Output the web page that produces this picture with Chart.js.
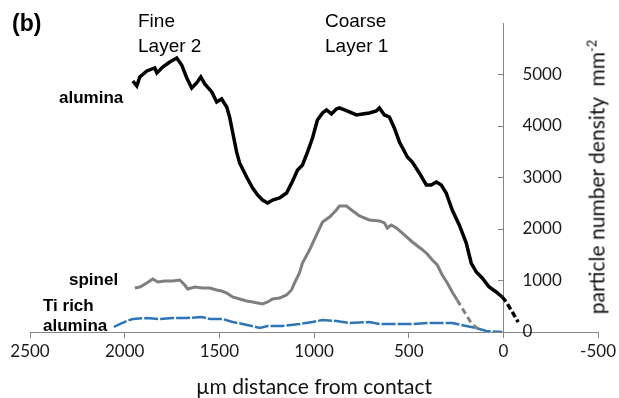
<!DOCTYPE html>
<html>
<head>
<meta charset="utf-8">
<script src="https://cdn.jsdelivr.net/npm/chart.js@4"></script>
<style>
  body { margin: 0; background: #fff; }
  #wrap { position: relative; width: 619px; height: 398px; }
  .lbl { position: absolute; white-space: nowrap; color: #000; font-family: "Liberation Sans", Arial, sans-serif; line-height: 1; }
  .b { font-weight: bold; }
  #ytitle { position: absolute; left: 596px; top: 177px; transform: translate(-50%, -50%) rotate(-90deg);
            white-space: nowrap; font: 21px Lato, sans-serif; color: #111; }
  #ytitle sup { font-size: 13px; }
</style>
</head>
<body>
<div id="wrap">
  <canvas id="grafico" width="619" height="398"></canvas>
  <div class="lbl b" style="left:12px; top:12px; font-size:23px;">(b)</div>
  <div class="lbl" style="left:138px; top:11px; font-size:19px;">Fine</div>
  <div class="lbl" style="left:138px; top:36px; font-size:19px;">Layer 2</div>
  <div class="lbl" style="left:325px; top:11px; font-size:19px;">Coarse</div>
  <div class="lbl" style="left:325px; top:36px; font-size:19px;">Layer 1</div>
  <div class="lbl b" style="left:59px; top:89px; font-size:17px;">alumina</div>
  <div class="lbl b" style="left:69px; top:271px; font-size:17px;">spinel</div>
  <div class="lbl b" style="left:43px; top:297px; font-size:17px;">Ti rich</div>
  <div class="lbl b" style="left:43px; top:317px; font-size:17px;">alumina</div>
  <div id="ytitle">particle number density&nbsp; mm<sup>-2</sup></div>
</div>
<script>
// dados (distancia em µm, densidade em particulas/mm2)
let aluminaX = [1957, 1936, 1920, 1883, 1841, 1830, 1799, 1762, 1725, 1699, 1672, 1646, 1620, 1598, 1577,
  1540, 1514, 1488, 1461, 1446, 1430, 1409, 1393, 1356, 1324, 1298, 1272, 1245, 1219, 1182, 1145, 1113,
  1087, 1061, 1034, 1008, 982, 955, 934, 908, 882, 866, 839, 813, 776, 744, 708, 671, 655, 628, 602, 576,
  549, 507, 481, 444, 407, 381, 354, 328, 302, 270, 233, 196, 170, 143, 112, 75, 38, 6, -15, -41, -78];
let aluminaY = [4874, 4777, 4952, 5069, 5127, 5030, 5146, 5243, 5321, 5185, 4933, 4738, 4836, 4952, 4816,
  4661, 4467, 4525, 4370, 4175, 3884, 3496, 3282, 3010, 2796, 2661, 2563, 2505, 2563, 2602, 2699, 2932,
  3146, 3243, 3496, 3767, 4117, 4253, 4311, 4234, 4331, 4350, 4311, 4272, 4214, 4234, 4253, 4292, 4350, 4214, 4175, 3962,
  3690, 3399, 3301, 3088, 2855, 2855, 2913, 2855, 2699, 2369, 2078, 1728, 1340, 1165, 1049, 874, 777, 680, 583, 427, 194];

let spinelX = [1946, 1920, 1883, 1852, 1825, 1788, 1746, 1709, 1683, 1667, 1630, 1588, 1551, 1514, 1488,
  1461, 1430, 1393, 1356, 1324, 1298, 1272, 1245, 1219, 1182, 1145, 1119, 1103, 1077, 1061, 1024, 987,
  955, 918, 882, 866, 829, 802, 760, 708, 655, 628, 613, 592, 565, 523, 481, 433, 402, 375, 349, 323,
  296, 270, 244, 170, 128];
let spinelY = [854, 874, 952, 1029, 971, 990, 990, 1010, 913, 835, 874, 854, 854, 816, 796,
  757, 680, 641, 602, 583, 563, 544, 583, 641, 660, 719, 816, 952, 1146, 1340, 1592, 1884,
  2136, 2233, 2369, 2447, 2447, 2369, 2253, 2175, 2156, 2117, 2020, 2078, 2020, 1884, 1748, 1612, 1515, 1398, 1301, 1107,
  952, 777, 621, 175, 39];

let tiX = [2057, 2026, 1989, 1957, 1883, 1815, 1746, 1672, 1593, 1551, 1483, 1430, 1377, 1330, 1287,
  1245, 1166, 1077, 1008, 955, 882, 813, 708, 655, 481, 391, 270, 196, 143, 91, 6];
let tiY = [97, 155, 214, 252, 272, 252, 272, 272, 291, 252, 252, 194, 155, 117, 78,
  117, 117, 155, 194, 233, 214, 175, 194, 155, 155, 175, 175, 117, 78, 19, 0];

// eixos
let xMin = -500, xMax = 2500, xStep = 500;
let yTicks = [0, 1000, 2000, 3000, 4000, 5000];
let yMax = 6000;

function pontos(xs, ys) {
  return xs.map((x, i) => ({ x: x, y: ys[i] }));
}

// rotulos do eixo y ficam a direita da linha do eixo
const rotulosY = {
  id: "rotulosY",
  afterDraw(chart) {
    let s = chart.scales.y;
    let x0 = chart.scales.x.getPixelForValue(0);
    let ctx = chart.ctx;
    ctx.save();
    ctx.font = "17px Lato";
    ctx.fillStyle = "#1a1a1a";
    ctx.textAlign = "left";
    ctx.textBaseline = "middle";
    s.ticks.forEach(t => ctx.fillText(String(t.value), x0 + 19, s.getPixelForValue(t.value)));
    ctx.restore();
  }
};

let cinza = "#868686";

let chart = new Chart(document.getElementById("grafico"), {
  type: "line",
  data: {
    datasets: [
      {
        label: "alumina",
        data: pontos(aluminaX, aluminaY),
        borderColor: "#000",
        borderWidth: 3.5,
        pointRadius: 0,
        segment: { borderDash: c => c.p1.parsed.x < 5 ? [6, 3] : undefined }
      },
      {
        label: "spinel",
        data: pontos(spinelX, spinelY),
        borderColor: "#7f7f7f",
        borderWidth: 3,
        pointRadius: 0,
        segment: { borderDash: c => c.p0.parsed.x < 250 ? [6, 4] : undefined }
      },
      {
        label: "Ti rich alumina",
        data: pontos(tiX, tiY),
        borderColor: "#2e75b6",
        borderWidth: 2.5,
        borderDash: [14, 2],
        pointRadius: 0
      }
    ]
  },
  options: {
    responsive: false,
    animation: false,
    layout: { padding: { left: 30, right: 20, top: 23, bottom: 0 } },
    plugins: { legend: { display: false }, tooltip: { enabled: false } },
    scales: {
      x: {
        type: "linear",
        reverse: true,
        min: xMin,
        max: xMax,
        afterFit: s => { s.height = 66; },
        border: { color: cinza, width: 1 },
        grid: { drawOnChartArea: false, tickLength: 6, color: cinza },
        ticks: {
          stepSize: xStep,
          padding: 3,
          maxRotation: 0,
          color: "#1a1a1a",
          font: { family: "Lato", size: 17 },
          callback: v => String(v)
        },
        title: {
          display: true,
          text: "µm distance from contact",
          color: "#111",
          font: { family: "Lato", size: 21, lineHeight: 1 },
          padding: { top: 0, bottom: 0 }
        }
      },
      y: {
        type: "linear",
        position: { x: 0 },
        min: 0,
        max: yMax,
        afterFit: s => { s.width = 0; },
        afterBuildTicks: s => { s.ticks = yTicks.map(v => ({ value: v })); },
        border: { color: cinza, width: 1 },
        grid: { drawOnChartArea: false, tickLength: 5, color: cinza },
        ticks: { display: false }
      }
    }
  },
  plugins: [rotulosY]
});
</script>
</body>
</html>
